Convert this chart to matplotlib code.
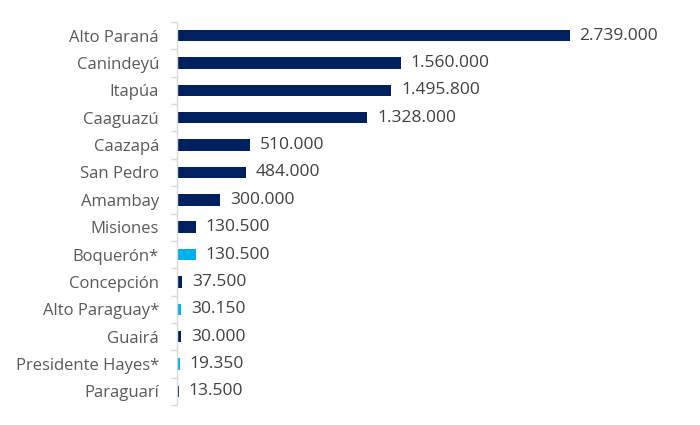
import matplotlib
matplotlib.use("Agg")
import matplotlib.pyplot as plt
import numpy as np

categories = ["Alto Paraná", "Canindeyú", "Itapúa", "Caaguazú", "Caazapá", "San Pedro",
              "Amambay", "Misiones", "Boquerón*", "Concepción", "Alto Paraguay*", "Guairá",
              "Presidente Hayes*", "Paraguarí"]
values = [2739000, 1560000, 1495800, 1328000, 510000, 484000, 300000, 130500, 130500,
          37500, 30150, 30000, 19350, 13500]
labels = ["2.739.000", "1.560.000", "1.495.800", "1.328.000", "510.000", "484.000",
          "300.000", "130.500", "130.500", "37.500", "30.150", "30.000", "19.350", "13.500"]

navy = "#002060"
light = "#00b0f0"
colors = [light if c.endswith("*") else navy for c in categories]

plt.rcParams['font.family'] = ['Open Sans', 'DejaVu Sans']
fig = plt.figure(figsize=(7, 4.25), dpi=100)
ax = fig.add_axes([177/700, 20/425, 430/700, 383/425])

n = len(categories)
y = np.arange(n)
ax.barh(y, values, height=0.42, color=colors)
ax.set_ylim(n - 0.5, -0.5)
ax.set_xlim(0, 3000000)

for yi, v, lab in zip(y, values, labels):
    ax.annotate(lab, (v, yi), xytext=(7, 0), textcoords="offset points",
                va="center", ha="left", fontsize=12.5, color="#404040")

ax.set_yticks(y)
ax.set_yticklabels(categories, fontsize=12, color="#595959")
ax.tick_params(axis="y", length=0, pad=13)
ax.set_yticks(np.arange(n + 1) - 0.5, minor=True)
ax.tick_params(axis="y", which="minor", length=4, color="#d9d9d9", width=1)
ax.set_xticks([])
for s in ["top", "right", "bottom"]:
    ax.spines[s].set_visible(False)
ax.spines["left"].set_color("#d9d9d9")
ax.spines["left"].set_linewidth(1)

fig.savefig("out.png", dpi=100, facecolor="white")
